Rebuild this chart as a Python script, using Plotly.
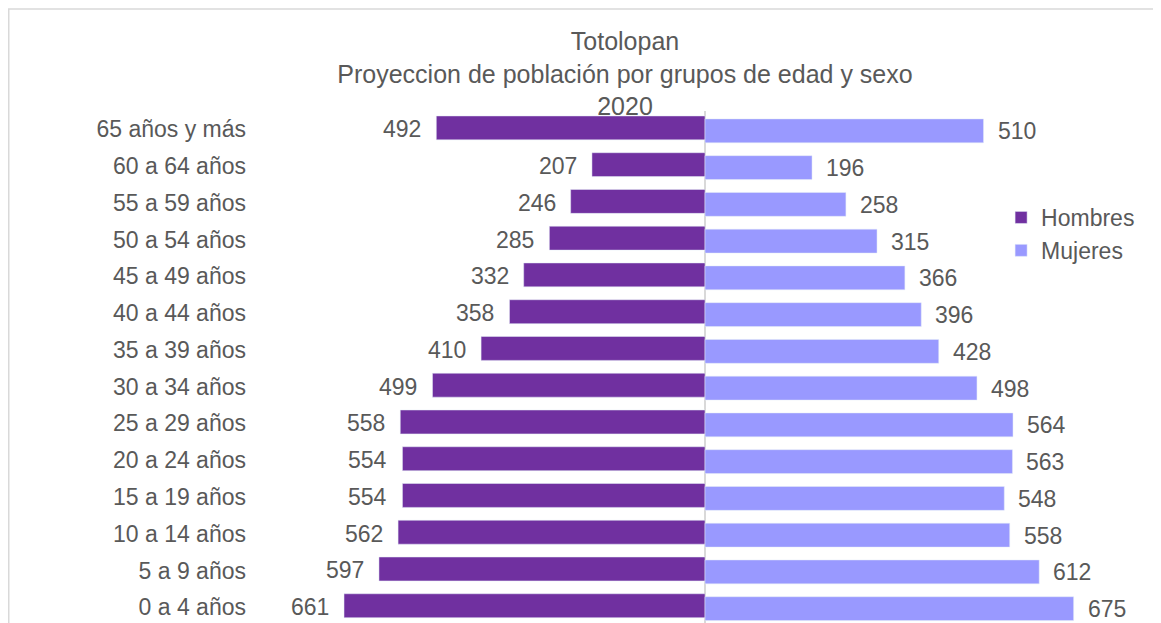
import plotly.graph_objects as go

# Grupos de edad (de abajo hacia arriba, como en el eje)
grupos = [
    "0 a 4 años", "5 a 9 años", "10 a 14 años", "15 a 19 años", "20 a 24 años",
    "25 a 29 años", "30 a 34 años", "35 a 39 años", "40 a 44 años", "45 a 49 años",
    "50 a 54 años", "55 a 59 años", "60 a 64 años", "65 años y más",
]
hombres = [661, 597, 562, 554, 554, 558, 499, 410, 358, 332, 285, 246, 207, 492]
mujeres = [675, 612, 558, 548, 563, 564, 498, 428, 396, 366, 315, 258, 196, 510]

COLOR_H = "#7030A0"
COLOR_M = "#9999FF"
GRIS = "#595959"
FUENTE = "Liberation Sans, Arial, sans-serif"

# Figura de 1153x615 (la página añade 8 px de margen)
ANCHO, ALTO = 1153, 615
IZQ, ARR = 247, 103
ANCHO_PLOT = 900
ALTO_PLOT = ALTO - ARR

fig = go.Figure()
fig.add_trace(go.Bar(
    y=grupos, x=[-v for v in hombres], orientation="h", name="Hombres",
    marker=dict(color=COLOR_H), width=0.65, offset=-0.285,
    hoverinfo="skip",
))
fig.add_trace(go.Bar(
    y=grupos, x=mujeres, orientation="h", name="Mujeres",
    marker=dict(color=COLOR_M), width=0.65, offset=-0.365,
    hoverinfo="skip",
))

# Etiquetas de valor fuera de las barras
anots = []
for g, h, m in zip(grupos, hombres, mujeres):
    anots.append(dict(x=-h, y=g, text=str(h), showarrow=False, xanchor="right",
                      xshift=-13, yshift=0, font=dict(size=23, color=GRIS, family=FUENTE)))
    anots.append(dict(x=m, y=g, text=str(m), showarrow=False, xanchor="left",
                      xshift=12, yshift=-2, font=dict(size=23, color=GRIS, family=FUENTE)))

fig.update_layout(
    width=ANCHO, height=ALTO,
    margin=dict(l=IZQ, r=ANCHO - IZQ - ANCHO_PLOT, t=ARR, b=0, autoexpand=False),
    paper_bgcolor="white", plot_bgcolor="white",
    barmode="overlay",
    font=dict(family=FUENTE, color=GRIS, size=23),
    title=dict(
        text="Totolopan<br>Proyeccion de población por grupos de edad y sexo<br>2020",
        x=617 / ANCHO, xref="container", xanchor="center",
        y=1 - 42 / ALTO, yref="container", yanchor="middle",
        font=dict(size=25, color=GRIS, family=FUENTE),
    ),
    xaxis=dict(range=[-824, 824], showticklabels=False, showgrid=False,
               zeroline=True, zerolinecolor="#D9D9D9", zerolinewidth=1.5,
               fixedrange=True),
    yaxis=dict(categoryorder="array", categoryarray=grupos,
               range=[-0.43, 13.5], showgrid=False, zeroline=False,
               automargin=False, ticks="", ticklabelstandoff=8,
               tickfont=dict(size=23, color=GRIS, family=FUENTE)),
    legend=dict(x=0.829, y=0.834, xanchor="left", yanchor="top",
                bgcolor="rgba(0,0,0,0)", itemwidth=30,
                font=dict(size=23, color=GRIS, family=FUENTE),
                tracegroupgap=0),
    annotations=anots,
    shapes=[dict(type="rect", xref="paper", yref="paper",
                 x0=(0.75 - IZQ) / ANCHO_PLOT, x1=(ANCHO + 20 - IZQ) / ANCHO_PLOT,
                 y0=-0.2, y1=(ALTO - 1) / ALTO_PLOT,
                 line=dict(color="#D9D9D9", width=1.5), layer="below")],
)

fig.write_html("out.html")
